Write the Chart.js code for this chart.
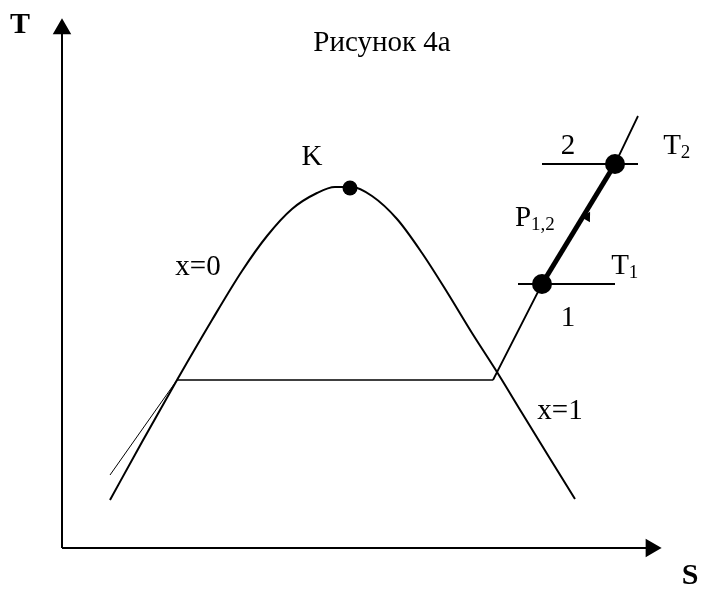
<!DOCTYPE html>
<html lang="ru">
  <head>
    <meta charset="UTF-8" />
    <title>Рисунок 4а</title>
    <style>
      html, body { margin: 0; padding: 0; background: #fff; }
    </style>
  </head>
  <body>
    <canvas id="chart" width="706" height="596"></canvas>

    <script src="https://cdn.jsdelivr.net/npm/chart.js@4.4.1/dist/chart.umd.min.js"></script>
    <script>
      //data (S, T in drawing units, origin at the axes corner)
      const domeS = [48, 80, 115, 150, 180, 205, 230, 255, 273, 290, 310, 335, 360, 385, 410, 435, 460, 487, 513];
      const domeT = [48, 106, 168, 228, 277, 312, 339, 355, 361, 361, 352, 329, 295, 256, 215, 176, 135, 91, 49];
      const boilS = [115, 431];
      const boilT = [168, 168];
      const tangentS = [48, 115];
      const tangentT = [73, 168];
      const isobarS = [431, 480, 553, 576];
      const isobarT = [168, 264, 384, 432];
      const processS = [480, 553];
      const processT = [264, 384];
      const isoT1S = [456, 553];
      const isoT2S = [480, 576];
      const critS = 288;
      const critT = 360;
      const arrowS = 525;
      const arrowT = 331;
      const axisSMax = 589;
      const axisTMax = 519;

      const labels = [
        { text: 'Рисунок 4а', s: 320, t: 505 },
        { text: 'T', s: -42, t: 523, bold: true },
        { text: 'S', s: 628, t: -28, bold: true },
        { text: 'K', s: 250, t: 391 },
        { text: 'x=0', s: 136, t: 281 },
        { text: 'x=1', s: 498, t: 137 },
        { text: '2', s: 506, t: 402 },
        { text: '1', s: 506, t: 230 },
        { text: 'T', sub: '2', s: 610, t: 402 },
        { text: 'T', sub: '1', s: 558, t: 282 },
        { text: 'P', sub: '1,2', s: 461, t: 330 }
      ];

      const pts = (xs, ys) => xs.map((x, i) => ({ x: x, y: ys[i] }));
      const flat = (xs, y) => xs.map(x => ({ x: x, y: y }));

      const line = (data, width, extra) => Object.assign({
        data: data,
        borderColor: '#000',
        backgroundColor: '#000',
        borderWidth: width,
        pointRadius: 0,
        showLine: true,
        fill: false
      }, extra || {});

      const data = {
        datasets: [
          line(pts(domeS, domeT), 2, { cubicInterpolationMode: 'monotone' }),
          line(pts(boilS, boilT), 1.5),
          line(pts(tangentS, tangentT), 1),
          line(pts(isobarS, isobarT), 1.8),
          line(flat(isoT1S, processT[0]), 1.8),
          line(flat(isoT2S, processT[1]), 1.8),
          line(pts(processS, processT), 5, { pointRadius: 7.5 }),
          line([{ x: arrowS, y: arrowT }], 0, { showLine: false, pointRadius: 6, pointStyle: 'triangle', rotation: 31 }),
          line([{ x: critS, y: critT }], 0, { showLine: false, pointRadius: 7.5 }),
          line([{ x: 0, y: 0 }, { x: axisSMax, y: 0 }], 2, { pointRadius: [0, 8.7], pointStyle: 'triangle', rotation: 90 }),
          line([{ x: 0, y: 0 }, { x: 0, y: axisTMax }], 2, { pointRadius: [0, 8.7], pointStyle: 'triangle' })
        ]
      };

      //text labels
      const textPlugin = {
        id: 'textLabels',
        afterDatasetsDraw(chart) {
          const ctx = chart.ctx;
          const xs = chart.scales.x;
          const ys = chart.scales.y;
          ctx.save();
          ctx.fillStyle = '#000';
          ctx.textBaseline = 'middle';
          labels.forEach(l => {
            const px = xs.getPixelForValue(l.s);
            const py = ys.getPixelForValue(l.t);
            ctx.font = (l.bold ? 'bold 30px' : '29px') + ' "Liberation Serif", serif';
            ctx.textAlign = 'center';
            ctx.fillText(l.text, px, py);
            if (l.sub) {
              const w = ctx.measureText(l.text).width;
              ctx.font = '19px "Liberation Serif", serif';
              ctx.textAlign = 'left';
              ctx.fillText(l.sub, px + w / 2, py + 7);
            }
          });
          ctx.restore();
        }
      };

      //config
      const config = {
        type: 'scatter',
        data: data,
        options: {
          responsive: false,
          animation: false,
          layout: { padding: 0, autoPadding: false },
          plugins: {
            legend: { display: false },
            tooltip: { enabled: false }
          },
          scales: {
            x: { type: 'linear', display: false, min: -62, max: 644 },
            y: { type: 'linear', display: false, min: -48, max: 548 }
          }
        },
        plugins: [textPlugin]
      };

      //init
      const ctx = document.getElementById('chart');
      const chart = new Chart(ctx, config);
    </script>
  </body>
</html>
